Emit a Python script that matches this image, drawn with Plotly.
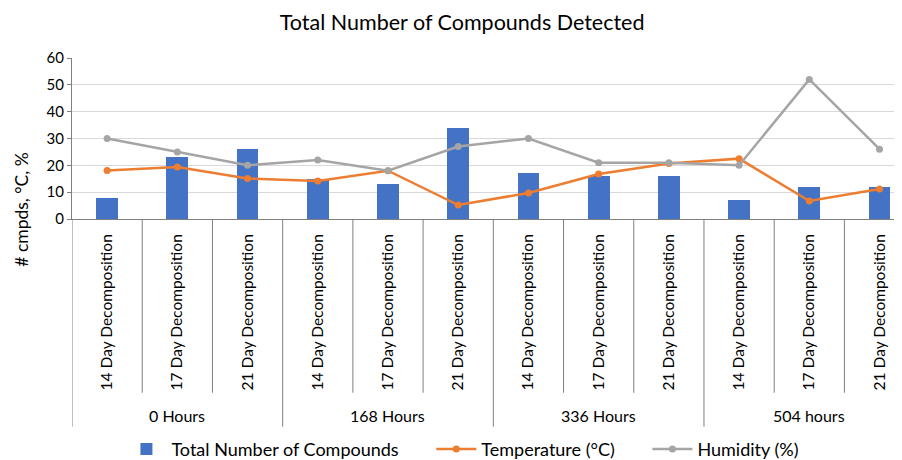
import plotly.graph_objects as go

groups = ["0 Hours", "168 Hours", "336 Hours", "504 hours"]
inner = ["14 Day Decomposition", "17 Day Decomposition", "21 Day Decomposition"]
compounds = [8, 23, 26, 15, 13, 34, 17, 16, 16, 7, 12, 12]
temperature = [18.1, 19.4, 15.1, 14.2, 18.0, 5.2, 9.7, 16.8, 20.7, 22.5, 6.7, 11.2]
humidity = [30, 25, 20, 22, 18, 27, 30, 21, 21, 20, 52, 26]
y_ticks = [0, 10, 20, 30, 40, 50, 60]

n = len(compounds)
xs = list(range(n))
tick_text = [inner[i % len(inner)] for i in xs]

FONT = "Lato, 'Open Sans', sans-serif"
PAD = "\u00a0" * 6  # spacing between legend entries

fig = go.Figure()
fig.add_trace(go.Bar(x=xs, y=compounds, name="Total Number of Compounds" + PAD,
                     marker=dict(color="#4472C4", line=dict(width=0)), width=0.31))
fig.add_trace(go.Scatter(x=xs, y=temperature, name="Temperature (°C)" + PAD, mode="lines+markers",
                         line=dict(color="#ED7D31", width=2.5), marker=dict(size=7, color="#ED7D31")))
fig.add_trace(go.Scatter(x=xs, y=humidity, name="Humidity (%)", mode="lines+markers",
                         line=dict(color="#A5A5A5", width=2.5), marker=dict(size=7, color="#A5A5A5")))

shapes = []
for i in range(n + 1):
    b = i - 0.5
    is_group = (i % 3 == 0)
    shapes.append(dict(type="line", xref="x", yref="paper", x0=b, x1=b, y0=0,
                       y1=-1.29 if is_group else -1.079,
                       line=dict(color="#808080", width=1)))

annotations = []
for g, name in enumerate(groups):
    annotations.append(dict(x=g * 3 + 1, y=-1.222, xref="x", yref="paper", text=name,
                            showarrow=False, font=dict(size=16, color="#000"),
                            xanchor="center", yanchor="middle"))
annotations.append(dict(x=-0.0602, y=0.058, xref="paper", yref="paper", text="# cmpds, °C, %",
                        textangle=-90, showarrow=False, font=dict(size=17.5, color="#000"),
                        xanchor="center", yanchor="middle"))

fig.update_layout(
    width=894, height=452,
    margin=dict(l=64, r=0, t=50, b=241, autoexpand=False),
    paper_bgcolor="white", plot_bgcolor="white",
    font=dict(family=FONT, color="#000"),
    title=dict(text="Total Number of Compounds Detected", x=0.508, xref="container", xanchor="center",
               y=0.969, yanchor="middle", font=dict(size=21.5, color="#000")),
    showlegend=True,
    legend=dict(orientation="h", x=0.471, xanchor="center", y=-1.43, yanchor="middle",
                font=dict(size=18), itemwidth=40, traceorder="normal"),
    bargap=0,
    shapes=shapes,
    annotations=annotations,
)
fig.update_xaxes(range=[-0.5, 11.32], tickvals=xs, ticktext=tick_text, tickangle=-90,
                 tickfont=dict(size=15.5), showgrid=False, zeroline=False, automargin=False,
                 showline=True, linecolor="#808080", linewidth=1, ticks="", ticklabelstandoff=8)
fig.update_yaxes(range=[0, 60], tickvals=y_ticks, tickfont=dict(size=15), automargin=False,
                 showgrid=True, gridcolor="#D9D9D9", gridwidth=1, zeroline=False,
                 showline=True, linecolor="#808080", linewidth=1, ticks="outside", ticklen=4,
                 tickcolor="#808080")

fig.write_html("out.html")
